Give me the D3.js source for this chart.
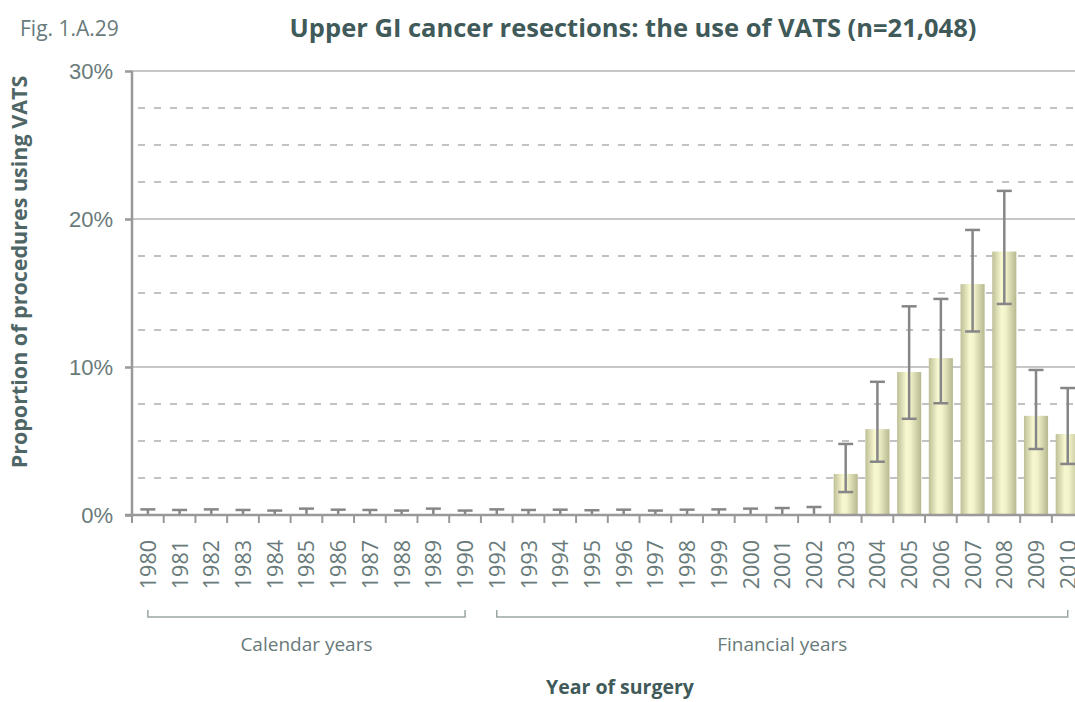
<!DOCTYPE html>
<html>
<head>
<meta charset="utf-8">
<script src="https://cdn.jsdelivr.net/npm/d3@7"></script>
<style>
  body { margin: 0; background: #fff; }
  svg { display: block; font-family: "Open Sans", sans-serif; }
</style>
</head>
<body>
<div id="chart"></div>
<script>
// years of surgery (1991 is absent in the source)
const years = ["1980","1981","1982","1983","1984","1985","1986","1987","1988","1989","1990",
  "1992","1993","1994","1995","1996","1997","1998","1999","2000","2001","2002",
  "2003","2004","2005","2006","2007","2008","2009","2010"];
// % of procedures using VATS
const values = [0.05,0.05,0.05,0.05,0.05,0.05,0.05,0.05,0.05,0.05,0.05,
  0.05,0.05,0.05,0.05,0.05,0.05,0.05,0.05,0.05,0.05,0.05,
  2.77,5.8,9.66,10.6,15.6,17.8,6.7,5.47];
// 95% CI lower / upper
const ciLow = [0,0,0,0,0,0,0,0,0,0,0,
  0,0,0,0,0,0,0,0,0,0,0,
  1.55,3.6,6.5,7.55,12.4,14.26,4.46,3.45];
const ciHigh = [0.38,0.34,0.38,0.34,0.3,0.43,0.36,0.34,0.3,0.43,0.3,
  0.38,0.34,0.36,0.32,0.36,0.3,0.36,0.38,0.43,0.47,0.54,
  4.8,9.0,14.1,14.6,19.26,21.9,9.8,8.58];
const yTicks = [0,10,20,30];
const yGrid = [2.5,5,7.5,12.5,15,17.5,22.5,25,27.5];
const groups = [
  {label: "Calendar years", from: "1980", to: "1990"},
  {label: "Financial years", from: "1992", to: "2010"}
];

const width = 1075, height = 702;
const margin = {top: 71, left: 132, bottom: 187};
const step = 31.72;
const textCol = "#687a7a", darkCol = "#405959";

const svg = d3.select("#chart").append("svg")
  .attr("width", width).attr("height", height);

const defs = svg.append("defs");
const grad = defs.append("linearGradient").attr("id", "barGrad")
  .attr("x1", "0%").attr("x2", "100%").attr("y1", "0%").attr("y2", "0%");
grad.append("stop").attr("offset", "0%").attr("stop-color", "#bfbf97");
grad.append("stop").attr("offset", "38%").attr("stop-color", "#f7f7d0");
grad.append("stop").attr("offset", "55%").attr("stop-color", "#f3f3cb");
grad.append("stop").attr("offset", "100%").attr("stop-color", "#b8b88f");

const x = d3.scaleBand()
  .domain(years)
  .range([margin.left, margin.left + step * years.length])
  .paddingInner(0.24).paddingOuter(0.12);

const y = d3.scaleLinear()
  .domain([0, 30])
  .range([height - margin.bottom, margin.top]);

const x0 = margin.left, x1 = margin.left + step * years.length;

// dashed minor grid
svg.append("g").selectAll("line")
  .data(yGrid).join("line")
  .attr("x1", x0 + 6).attr("x2", x1)
  .attr("y1", d => y(d)).attr("y2", d => y(d))
  .attr("stroke", "#c2c2c2").attr("stroke-width", 2)
  .attr("stroke-dasharray", "7,9");

// solid major grid
svg.append("g").selectAll("line")
  .data(yTicks.filter(d => d > 0)).join("line")
  .attr("x1", x0).attr("x2", x1)
  .attr("y1", d => y(d)).attr("y2", d => y(d))
  .attr("stroke", "#c8c8c8").attr("stroke-width", 2);

// bars
svg.append("g").selectAll("rect")
  .data(years).join("rect")
  .attr("x", d => x(d))
  .attr("width", x.bandwidth())
  .attr("y", (d, i) => y(values[i]))
  .attr("height", (d, i) => y(0) - y(values[i]))
  .attr("fill", "url(#barGrad)");

// error bars
const eb = svg.append("g").attr("stroke", "#868686").attr("stroke-width", 2.5);
const cx = d => x(d) + x.bandwidth() / 2;
const cap = 7.5;
eb.selectAll(".stem").data(years).join("line").attr("class", "stem")
  .attr("x1", cx).attr("x2", cx)
  .attr("y1", (d, i) => y(ciLow[i])).attr("y2", (d, i) => y(ciHigh[i]));
eb.selectAll(".capH").data(years).join("line").attr("class", "capH")
  .attr("x1", d => cx(d) - cap).attr("x2", d => cx(d) + cap)
  .attr("y1", (d, i) => y(ciHigh[i])).attr("y2", (d, i) => y(ciHigh[i]));
eb.selectAll(".capL").data(years.filter((d, i) => ciLow[i] > 0)).join("line").attr("class", "capL")
  .attr("x1", d => cx(d) - cap).attr("x2", d => cx(d) + cap)
  .attr("y1", d => y(ciLow[years.indexOf(d)])).attr("y2", d => y(ciLow[years.indexOf(d)]));

// y axis
const yAxis = svg.append("g")
  .attr("transform", `translate(${x0},0)`)
  .call(d3.axisLeft(y).tickValues(yTicks).tickFormat(d => d + "%").tickSize(7).tickPadding(12));
yAxis.select(".domain").remove();
yAxis.append("line").attr("x1", 0).attr("x2", 0)
  .attr("y1", y(0)).attr("y2", y(30))
  .attr("stroke", "#999").attr("stroke-width", 2.5);
yAxis.selectAll(".tick line").attr("stroke", "#999").attr("stroke-width", 2.5);
yAxis.selectAll(".tick text")
  .attr("fill", textCol).style("font-size", "22px").style("font-weight", 400);

// x axis
const base = y(0);
svg.append("line").attr("x1", x0 - 7).attr("x2", x1)
  .attr("y1", base).attr("y2", base)
  .attr("stroke", "#999").attr("stroke-width", 2.5);
const bounds = years.map(d => x(d) - x.step() * x.paddingInner() / 2);
svg.append("g").selectAll("line")
  .data(bounds).join("line")
  .attr("x1", d => d).attr("x2", d => d)
  .attr("y1", base).attr("y2", base + 8)
  .attr("stroke", "#999").attr("stroke-width", 2);

svg.append("g").selectAll("text")
  .data(years).join("text")
  .attr("transform", d => `translate(${cx(d) + 8},${base + 25}) rotate(-90)`)
  .attr("text-anchor", "end")
  .attr("fill", textCol)
  .style("font-size", "21.5px").style("font-weight", 400)
  .text(d => d);

// group brackets
const brY = 617;
const br = svg.append("g");
groups.forEach(g => {
  const a = cx(g.from), b = cx(g.to);
  br.append("path")
    .attr("d", `M${a},${brY - 7}V${brY}H${b}V${brY - 7}`)
    .attr("fill", "none").attr("stroke", "#9aa5a5").attr("stroke-width", 1.5);
  br.append("text")
    .attr("x", (a + b) / 2).attr("y", brY + 34)
    .attr("text-anchor", "middle").attr("fill", textCol)
    .style("font-size", "19px").style("font-weight", 400)
    .text(g.label);
});

// titles
svg.append("text").attr("x", 20).attr("y", 36)
  .attr("fill", textCol).style("font-size", "21px").style("font-weight", 400)
  .text("Fig. 1.A.29");
svg.append("text").attr("x", 633).attr("y", 37).attr("text-anchor", "middle")
  .attr("fill", darkCol).style("font-size", "25.5px").style("font-weight", 700)
  .text("Upper GI cancer resections: the use of VATS (n=21,048)");
svg.append("text").attr("x", 620).attr("y", 694).attr("text-anchor", "middle")
  .attr("fill", darkCol).style("font-size", "19.5px").style("font-weight", 700)
  .text("Year of surgery");
svg.append("text")
  .attr("transform", `translate(27,272) rotate(-90)`)
  .attr("text-anchor", "middle")
  .attr("fill", "#4f6666").style("font-size", "21.5px").style("font-weight", 700)
  .text("Proportion of procedures using VATS");
</script>
</body>
</html>
